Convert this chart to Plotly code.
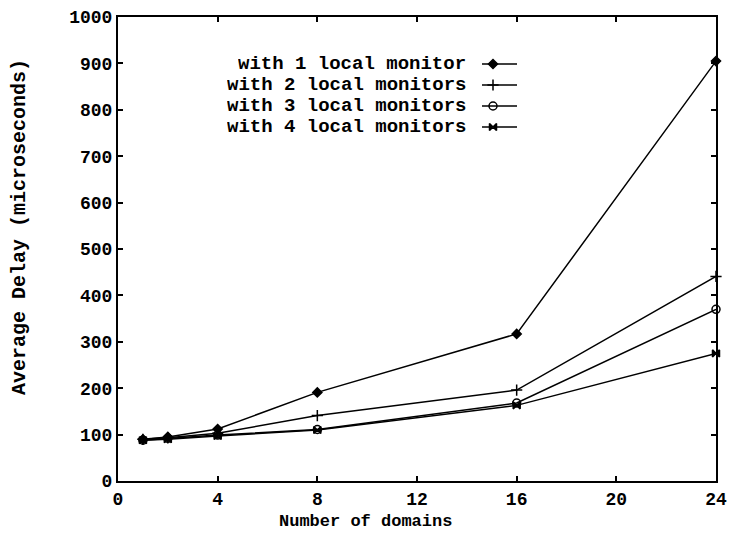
import plotly.graph_objects as go

domains = [1, 2, 4, 8, 16, 24]
mon1 = [90, 95, 112, 191, 317, 905]
mon2 = [90, 93, 103, 141, 196, 441]
mon3 = [88, 92, 99, 111, 168, 370]
mon4 = [88, 90, 97, 110, 163, 275]

names = ["with 1 local monitor", "with 2 local monitors",
         "with 3 local monitors", "with 4 local monitors"]
series = [mon1, mon2, mon3, mon4]
symbols = ["diamond", "cross-thin", "circle-open", "bowtie"]
sizes = [7, 8, 8, 7]

xticks = [0, 4, 8, 12, 16, 20, 24]
yticks = [0, 100, 200, 300, 400, 500, 600, 700, 800, 900, 1000]

FONT = "Liberation Mono"
fig = go.Figure()

for ys, sym, sz in zip(series, symbols, sizes):
    fig.add_trace(go.Scatter(
        x=domains, y=ys, mode="lines+markers",
        line=dict(color="black", width=1.5),
        marker=dict(symbol=sym, size=sz, color="black",
                    line=dict(color="black", width=1.5)),
        showlegend=False, cliponaxis=False))

# custom legend (text on the left, key on the right), pixel-like helper axes
L, R, T, B = 118, 716, 17, 481
W, H = R - L, B - T
rows = [64, 85, 106, 127]
for i, (nm, sym, sz) in enumerate(zip(names, symbols, sizes)):
    fig.add_trace(go.Scatter(
        x=[482, 517], y=[rows[i], rows[i]], mode="lines",
        line=dict(color="black", width=1.5), xaxis="x2", yaxis="y2",
        showlegend=False, hoverinfo="skip"))
    fig.add_trace(go.Scatter(
        x=[493], y=[rows[i]], mode="markers",
        marker=dict(symbol=sym, size=sz, color="black",
                    line=dict(color="black", width=1.5)),
        xaxis="x2", yaxis="y2", showlegend=False, hoverinfo="skip"))
    fig.add_annotation(x=(468 - L) / W, y=(B - rows[i]) / H,
                       xref="paper", yref="paper", text=nm,
                       showarrow=False, xanchor="right", yanchor="middle",
                       height=20,
                       font=dict(family=FONT, size=19, color="black",
                                 weight="bold"))

axis_common = dict(showgrid=False, zeroline=False, ticks="inside", ticklen=5,
                   tickwidth=1.5, tickcolor="black", showline=True,
                   linecolor="black", linewidth=2, mirror="ticks",
                   automargin=False,
                   tickfont=dict(family=FONT, size=18, color="black",
                                 weight="bold"))

fig.update_layout(
    width=729, height=533,
    margin=dict(l=L, r=729 - R, t=T, b=533 - B),
    paper_bgcolor="white", plot_bgcolor="white",
    xaxis=dict(range=[0, 24], tickvals=xticks, **axis_common),
    yaxis=dict(range=[0, 1000], tickvals=yticks, **axis_common),
    xaxis2=dict(range=[L, R], overlaying="x", visible=False, fixedrange=True),
    yaxis2=dict(range=[B, T], overlaying="y", visible=False, fixedrange=True),
)

fig.add_annotation(x=(365 - L) / W, y=(B - 521) / H, xref="paper", yref="paper",
                   text="Number of domains",
                   showarrow=False, xanchor="center", yanchor="middle",
                   font=dict(family=FONT, size=17, color="black", weight="bold"))
fig.add_annotation(x=(19 - L) / W, y=(B - 227) / H, xref="paper", yref="paper",
                   text="Average Delay (microseconds)", textangle=-90,
                   showarrow=False, xanchor="center", yanchor="middle",
                   font=dict(family=FONT, size=20, color="black", weight="bold"))

fig.write_html("out.html")
